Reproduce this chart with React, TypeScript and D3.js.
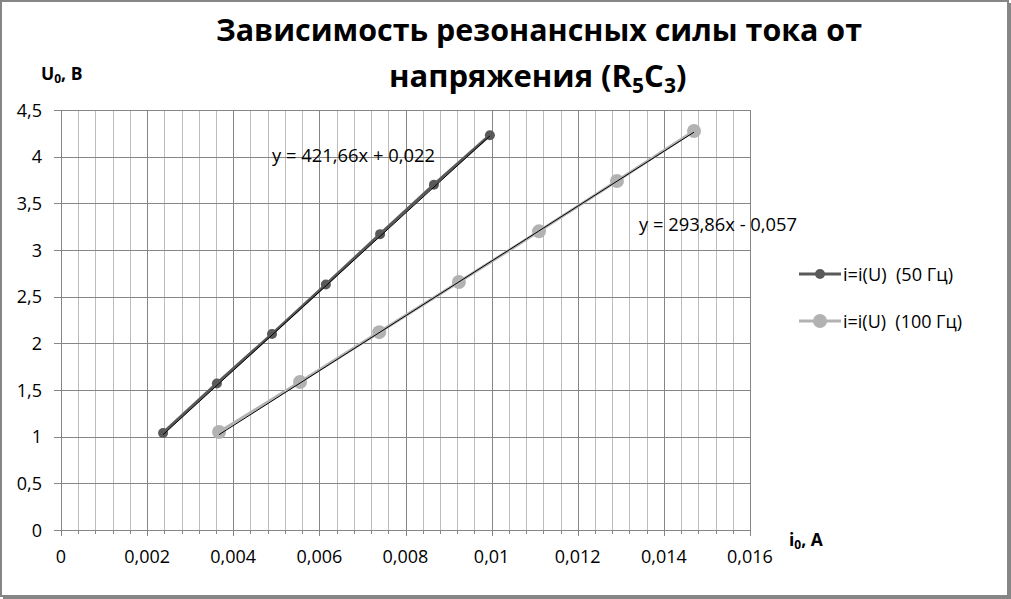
import React from "react";
import * as d3 from "d3";

const xTicks = [0, 0.002, 0.004, 0.006, 0.008, 0.01, 0.012, 0.014, 0.016];
const yTicks = [0, 0.5, 1, 1.5, 2, 2.5, 3, 3.5, 4, 4.5];

const i50 = [0.00237, 0.00362, 0.0049, 0.00615, 0.00741, 0.00866, 0.00996];
const u50 = [1.04, 1.57, 2.1, 2.63, 3.17, 3.7, 4.23];
const i100 = [0.00367, 0.00555, 0.00739, 0.00924, 0.0111, 0.01291, 0.0147];
const u100 = [1.05, 1.586, 2.12, 2.657, 3.2, 3.739, 4.275];

const trend50 = { slope: 421.66, intercept: 0.022, label: "y = 421,66x + 0,022" };
const trend100 = { slope: 293.86, intercept: -0.057, label: "y = 293,86x - 0,057" };

const seriesNames = ["i=i(U)  (50 Гц)", "i=i(U)  (100 Гц)"];

const FONT = "'Open Sans', sans-serif";

export default function App() {
  const W = 1011, H = 599;
  const x = d3.scaleLinear().domain([0, 0.016]).range([61, 750]);
  const y = d3.scaleLinear().domain([0, 4.5]).range([530, 110]);
  const minorX = d3.range(0, 0.01601, 0.0004);
  const line = d3.line<[number, number]>().x(d => x(d[0])).y(d => y(d[1]));
  const s50 = i50.map((v, k) => [v, u50[k]] as [number, number]);
  const s100 = i100.map((v, k) => [v, u100[k]] as [number, number]);
  const tl = (t: { slope: number; intercept: number }, xs: number[]) => {
    const a = d3.min(xs)!, b = d3.max(xs)!;
    return line([[a, t.slope * a + t.intercept], [b, t.slope * b + t.intercept]]) || "";
  };
  const fmt = (v: number) => String(v).replace(".", ",");
  const c1 = "#595959", c2 = "#b2b2b2";
  const fs = 18;
  return (
    <svg width={W} height={H} style={{ position: "absolute", left: 0, top: 0 }} fontFamily={FONT}>
      <rect x={0} y={0} width={W} height={H} fill="#fff" />
      <rect x={1} y={1} width={1007} height={595} fill="none" stroke="#868686" strokeWidth={2} />
      <line x1={1009.5} y1={3} x2={1009.5} y2={599} stroke="#868686" strokeWidth={3} />
      <line x1={3} y1={597.5} x2={1011} y2={597.5} stroke="#868686" strokeWidth={3} />
      {minorX.map((v, k) => (
        <line key={"mx" + k} x1={Math.round(x(v)) + 0.5} x2={Math.round(x(v)) + 0.5} y1={110} y2={530}
          stroke={k % 5 === 0 ? "#868686" : "#bdbdbd"} strokeWidth={1} />
      ))}
      {yTicks.map(v => (
        <line key={"gy" + v} x1={54} x2={750} y1={Math.round(y(v)) + 0.5} y2={Math.round(y(v)) + 0.5}
          stroke="#868686" strokeWidth={1} />
      ))}
      {minorX.map((v, k) => (
        <line key={"tx" + k} x1={Math.round(x(v)) + 0.5} x2={Math.round(x(v)) + 0.5} y1={530} y2={k % 5 === 0 ? 536 : 534}
          stroke="#868686" />
      ))}
      <line x1={61.5} x2={61.5} y1={110} y2={530} stroke="#868686" />
      {yTicks.map(v => (
        <text key={"ly" + v} x={42} y={y(v) + 6.5} textAnchor="end" fontSize={fs} fill="#000">{fmt(v)}</text>
      ))}
      {xTicks.map(v => (
        <text key={"lx" + v} x={x(v)} y={563} textAnchor="middle" fontSize={fs} fill="#000">{fmt(v)}</text>
      ))}
      <path d={line(s50) || ""} fill="none" stroke={c1} strokeWidth={3} />
      <path d={line(s100) || ""} fill="none" stroke={c2} strokeWidth={3} />
      {s50.map((d, k) => <circle key={"p1" + k} cx={x(d[0])} cy={y(d[1])} r={5} fill={c1} />)}
      {s100.map((d, k) => <circle key={"p2" + k} cx={x(d[0])} cy={y(d[1])} r={7} fill={c2} />)}
      <path d={tl(trend50, i50)} fill="none" stroke="#000" strokeWidth={1} />
      <path d={tl(trend100, i100)} fill="none" stroke="#000" strokeWidth={1} />
      <text x={272} y={162} fontSize={fs} fill="#000" textLength={163} lengthAdjust="spacingAndGlyphs">{trend50.label}</text>
      <text x={639} y={231} fontSize={fs} fill="#000" textLength={158} lengthAdjust="spacingAndGlyphs">{trend100.label}</text>
      {[c1, c2].map((c, k) => (
        <g key={"lg" + k} transform={`translate(0,${274 + k * 47})`}>
          <line x1={799} x2={841} y1={0} y2={0} stroke={c} strokeWidth={3} />
          <circle cx={820} cy={0} r={k === 0 ? 5 : 7} fill={c} />
          <text x={843} y={6.5} fontSize={fs} fill="#000" textLength={k === 0 ? 110 : 119} lengthAdjust="spacingAndGlyphs" xmlSpace="preserve" style={{ whiteSpace: "pre" }}>{seriesNames[k]}</text>
        </g>
      ))}
      <text x={539} y={41} textAnchor="middle" fontSize={31} fontWeight="bold" fill="#000" textLength={646} lengthAdjust="spacingAndGlyphs">Зависимость резонансных силы тока от</text>
      <text x={389} y={87} fontSize={31} fontWeight="bold" fill="#000">
        напряжения (R<tspan fontSize={21} dy={6}>5</tspan><tspan dy={-6}>C</tspan><tspan fontSize={21} dy={6}>3</tspan><tspan dy={-6}>)</tspan>
      </text>
      <text x={41} y={80} fontSize={17.5} fontWeight="bold" fill="#000">U<tspan fontSize={12} dy={3}>0</tspan><tspan dy={-3}>, В</tspan></text>
      <text x={789} y={546} fontSize={17.5} fontWeight="bold" fill="#000">i<tspan fontSize={12} dy={3}>0</tspan><tspan dy={-3}>, А</tspan></text>
    </svg>
  );
}
